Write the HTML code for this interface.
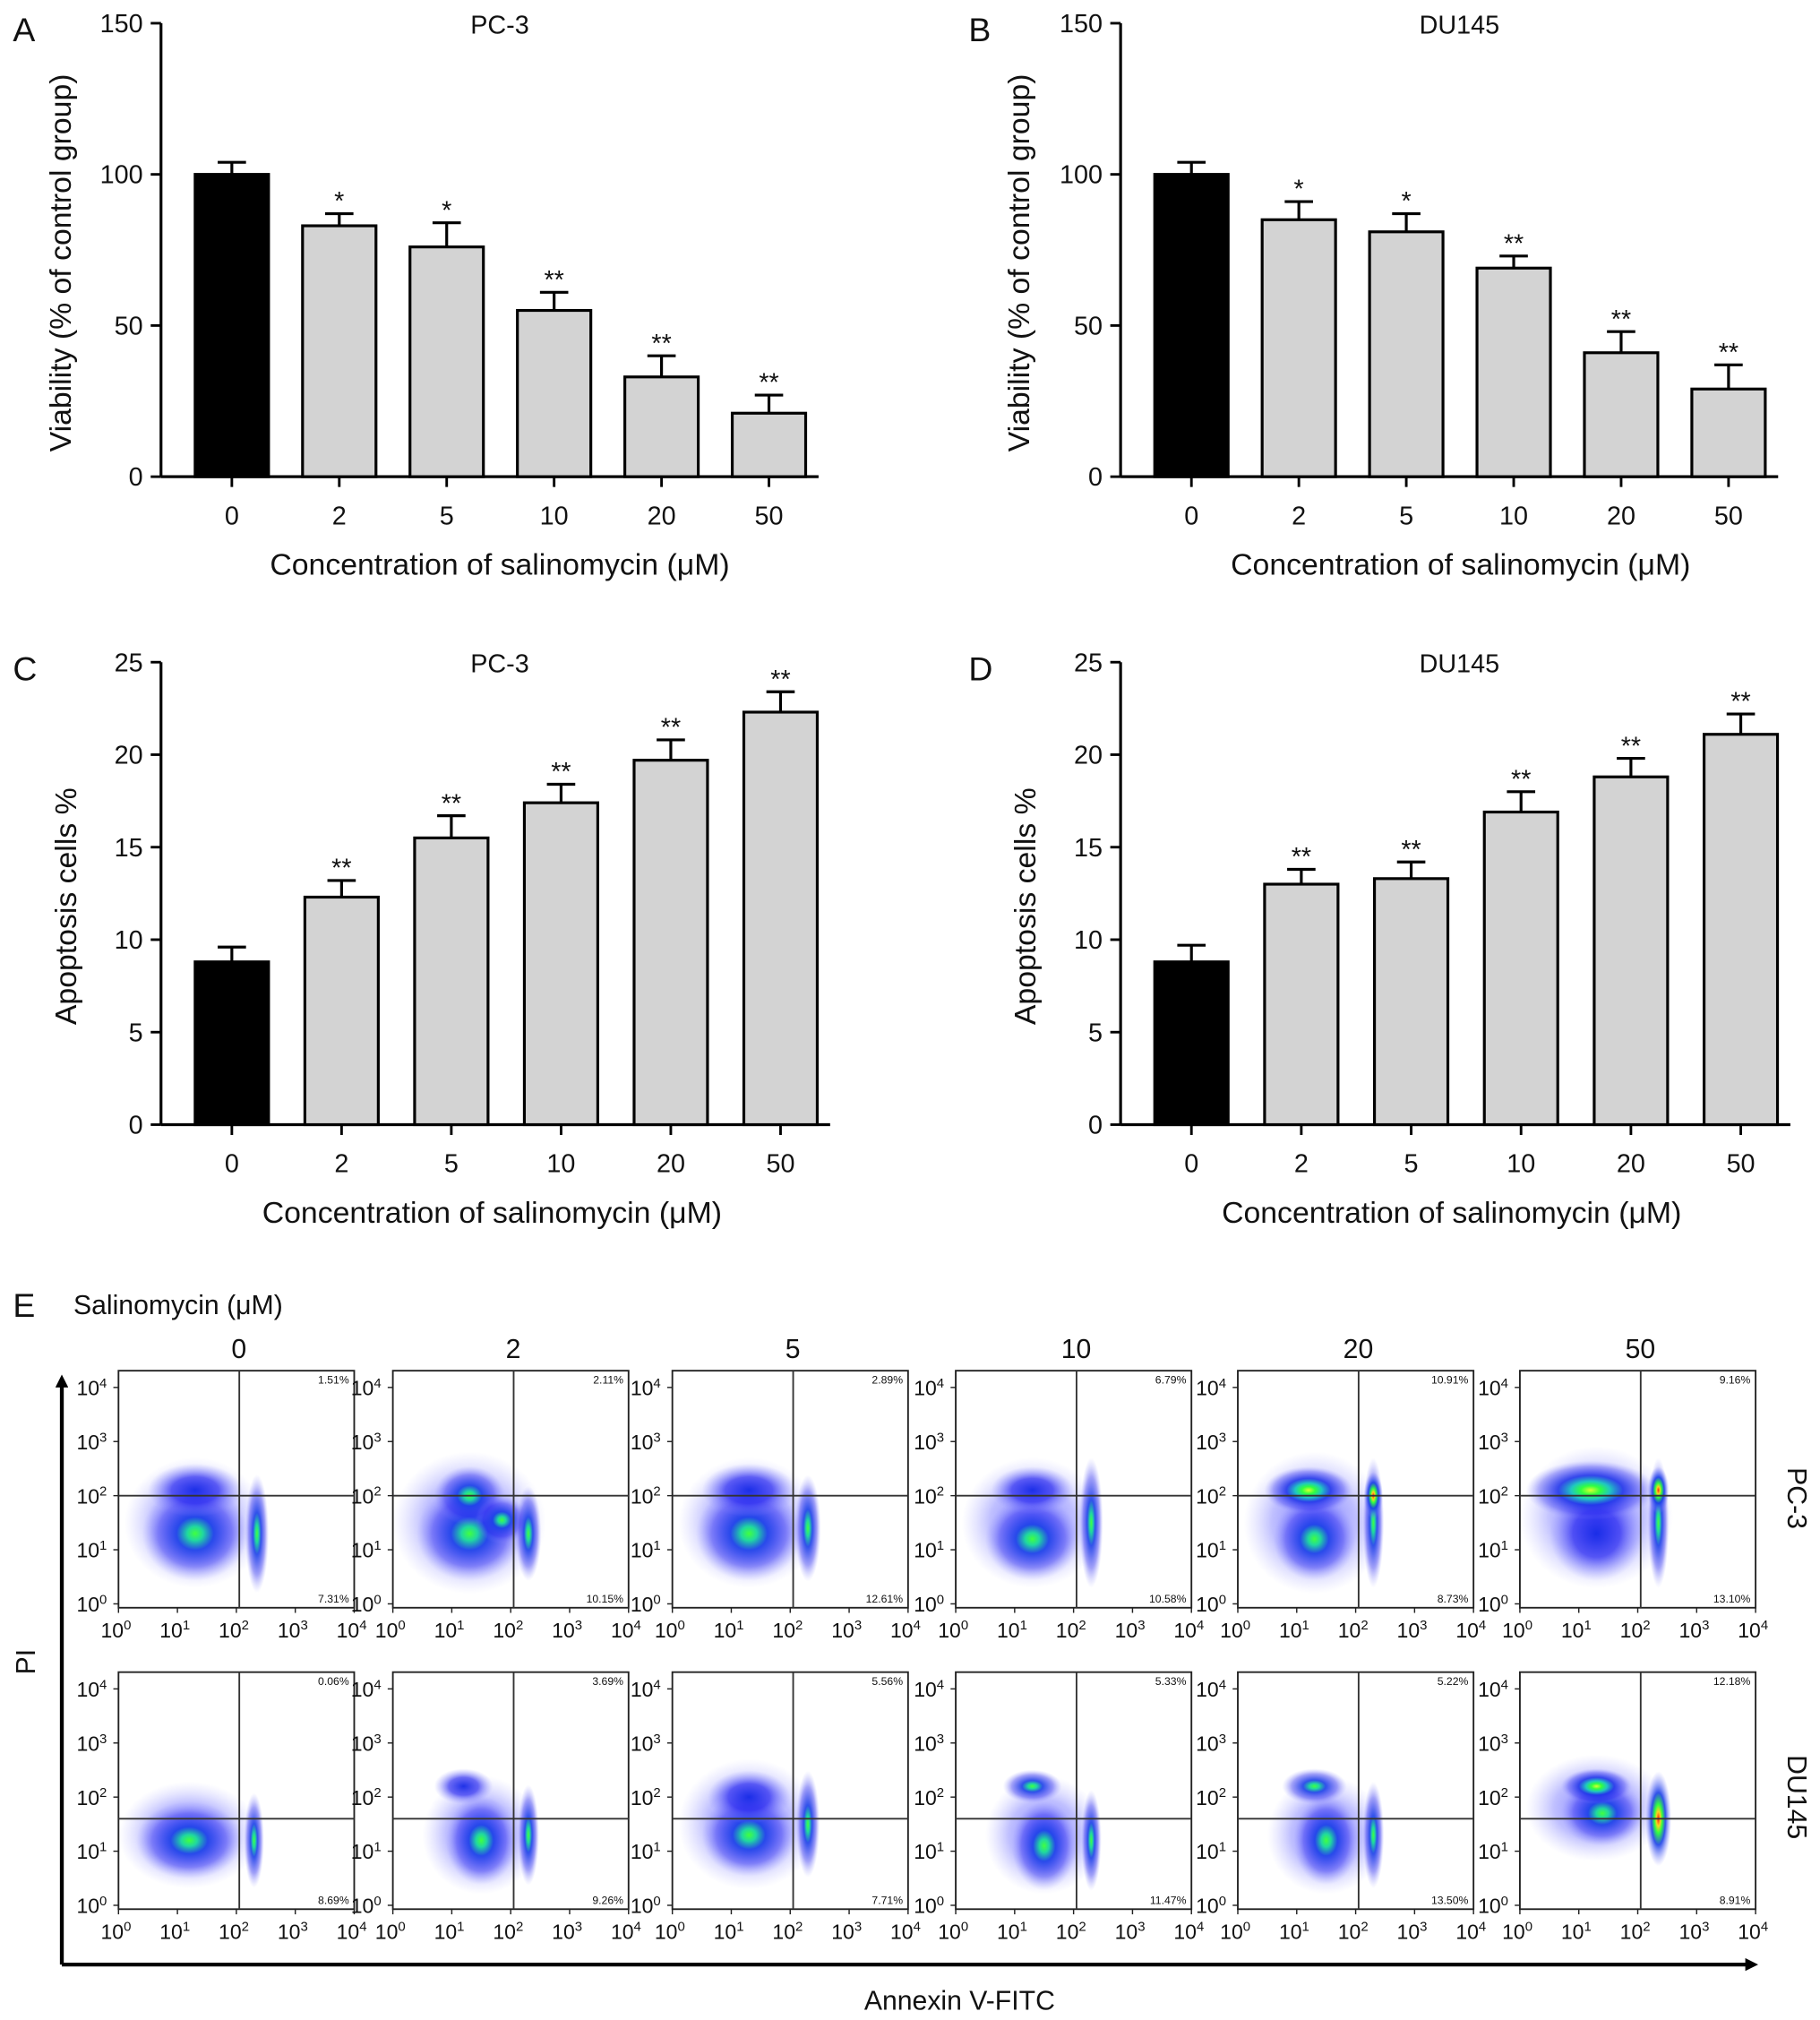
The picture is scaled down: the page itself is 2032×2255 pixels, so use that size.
<!DOCTYPE html>
<html><head><meta charset="utf-8"><style>
html,body{margin:0;padding:0;background:#fff}
svg{display:block}
text{font-family:"Liberation Sans",Arial,sans-serif;fill:#111}
</style></head><body>
<svg id="fig" xmlns="http://www.w3.org/2000/svg" width="2032" height="2255" viewBox="0 0 1413 1568">
<defs>
<radialGradient id="gB"><stop offset="0" stop-color="#1428e6" stop-opacity="0.95"/><stop offset="0.5" stop-color="#2a2af0" stop-opacity="0.7"/><stop offset="1" stop-color="#8a8aff" stop-opacity="0"/></radialGradient>
<radialGradient id="gG"><stop offset="0" stop-color="#40ff40"/><stop offset="0.15" stop-color="#20d8a0"/><stop offset="0.35" stop-color="#1a40e8" stop-opacity="0.9"/><stop offset="0.7" stop-color="#3030f0" stop-opacity="0.45"/><stop offset="1" stop-color="#8a8aff" stop-opacity="0"/></radialGradient>
<radialGradient id="gY"><stop offset="0" stop-color="#d8ff30"/><stop offset="0.15" stop-color="#30ff40"/><stop offset="0.3" stop-color="#20c8c0"/><stop offset="0.5" stop-color="#1a30e8" stop-opacity="0.85"/><stop offset="0.8" stop-color="#3030f0" stop-opacity="0.35"/><stop offset="1" stop-color="#8a8aff" stop-opacity="0"/></radialGradient>
<radialGradient id="gR"><stop offset="0" stop-color="#ff2010"/><stop offset="0.15" stop-color="#ffd020"/><stop offset="0.3" stop-color="#30ff40"/><stop offset="0.55" stop-color="#1a40e8" stop-opacity="0.9"/><stop offset="1" stop-color="#8a8aff" stop-opacity="0"/></radialGradient>
<radialGradient id="gH"><stop offset="0" stop-color="#4040ff" stop-opacity="0.75"/><stop offset="0.6" stop-color="#6060ff" stop-opacity="0.4"/><stop offset="1" stop-color="#a0a0ff" stop-opacity="0"/></radialGradient>
<marker id="arr" markerWidth="10" markerHeight="10" refX="5" refY="5" orient="auto" markerUnits="userSpaceOnUse"><path d="M0,0 L10,5 L0,10 z" fill="#000"/></marker>
</defs>
<g id="root"></g>
</svg>
<script>
// ---- bar chart data ----
const categories = ["0","2","5","10","20","50"];
const viabPC3 = [100, 83, 76, 55, 33, 21];
const viabPC3Err = [4, 4, 8, 6, 7, 6];
const viabDU = [100, 85, 81, 69, 41, 29];
const viabDUErr = [4, 6, 6, 4, 7, 8];
const apopPC3 = [8.8, 12.3, 15.5, 17.4, 19.7, 22.3];
const apopPC3Err = [0.8, 0.9, 1.2, 1.0, 1.1, 1.1];
const apopDU = [8.8, 13.0, 13.3, 16.9, 18.8, 21.1];
const apopDUErr = [0.9, 0.8, 0.9, 1.1, 1.0, 1.1];
const sigPC3V = ["", "*", "*", "**", "**", "**"];
const sigDUV = ["", "*", "*", "**", "**", "**"];
const sigPC3A = ["", "**", "**", "**", "**", "**"];
const sigDUA = ["", "**", "**", "**", "**", "**"];
const viabTicks = [0, 50, 100, 150];
const apopTicks = [0, 5, 10, 15, 20, 25];
// ---- flow percentages ----
const flowDoses = ["0","2","5","10","20","50"];
const pc3Upper = ["1.51%","2.11%","2.89%","6.79%","10.91%","9.16%"];
const pc3Lower = ["7.31%","10.15%","12.61%","10.58%","8.73%","13.10%"];
const duUpper = ["0.06%","3.69%","5.56%","5.33%","5.22%","12.18%"];
const duLower = ["8.69%","9.26%","7.71%","11.47%","13.50%","8.91%"];

const NS="http://www.w3.org/2000/svg";
const root=document.getElementById('root');
function mk(tag,attrs,parent,txt){const e=document.createElementNS(NS,tag);for(const k in attrs)e.setAttribute(k,attrs[k]);if(txt!==undefined)e.textContent=txt;(parent||root).appendChild(e);return e;}

function barChart(o){
  const g=mk('g',{});
  
  
  const x0=o.x0,top=o.top,bot=o.bot,max=o.max,step=o.step,first=o.first,bw=57;
  const y=v=>bot-(v/max)*(bot-top);
  const xc=i=>first+i*step;
  mk('line',{x1:x0,y1:top,x2:x0,y2:bot,stroke:'#000','stroke-width':2.2},g);
  mk('line',{x1:x0,y1:bot,x2:xc(5)+bw/2+10,y2:bot,stroke:'#000','stroke-width':2.2},g);
  o.ticks.forEach(t=>{
    mk('line',{x1:x0-8,y1:y(t),x2:x0,y2:y(t),stroke:'#000','stroke-width':2},g);
    const tl=mk('text',{x:x0-14,y:y(t)+7,'text-anchor':'end','font-size':20},g,String(t));
    
    
  });
  o.vals.forEach((v,i)=>{
    const cx=xc(i);
    const ey=y(v+o.err[i]);
    mk('line',{x1:cx,y1:y(v),x2:cx,y2:ey,stroke:'#000','stroke-width':2.2},g);
    mk('line',{x1:cx-11,y1:ey,x2:cx+11,y2:ey,stroke:'#000','stroke-width':2.2},g);
    const r=mk('rect',{x:cx-bw/2,y:y(v),width:bw,height:bot-y(v),fill:i==0?'#000':'#d3d3d3',stroke:'#000','stroke-width':2.2},g);
    
    
    mk('line',{x1:cx,y1:bot,x2:cx,y2:bot+8,stroke:'#000','stroke-width':2},g);
    const xl=mk('text',{x:cx,y:bot+37,'text-anchor':'middle','font-size':20},g,categories[i]);
    
    
    if(o.sig[i]){const s=mk('text',{x:cx,y:ey-3,'text-anchor':'middle','font-size':20},g,o.sig[i]);
      
      }
  });
  const tt=mk('text',{x:o.titleX,y:top+8,'text-anchor':'middle','font-size':20},g,o.title);
  
  
  const xt=mk('text',{x:o.xtX,y:bot+76,'text-anchor':'middle','font-size':23.5},g,'Concentration of salinomycin (\u03bcM)');
  
  
  const yt=mk('text',{x:0,y:0,'text-anchor':'middle','font-size':23.5,transform:`translate(${o.ytX},${(top+bot)/2+10}) rotate(-90)`},g,o.ytitle);
  
  
  const pl=mk('text',{x:o.letterX,y:top+14,'font-size':26},g,o.letter);
  
  
}
barChart({name:'panel-a-pc3-viability',x0:125,top:18,bot:370,max:150,first:180,step:83.4,vals:viabPC3,err:viabPC3Err,sig:sigPC3V,ticks:viabTicks,title:'PC-3',titleX:388,xtX:388,ytitle:'Viability (% of control group)',ytX:55,letter:'A',letterX:10});
barChart({name:'panel-b-du145-viability',x0:870,top:18,bot:370,max:150,first:925,step:83.4,vals:viabDU,err:viabDUErr,sig:sigDUV,ticks:viabTicks,title:'DU145',titleX:1133,xtX:1134,ytitle:'Viability (% of control group)',ytX:799,letter:'B',letterX:752});
barChart({name:'panel-c-pc3-apoptosis',x0:125,top:514,bot:873,max:25,first:180,step:85.2,vals:apopPC3,err:apopPC3Err,sig:sigPC3A,ticks:apopTicks,title:'PC-3',titleX:388,xtX:382,ytitle:'Apoptosis cells %',ytX:59,letter:'C',letterX:10});
barChart({name:'panel-d-du145-apoptosis',x0:870,top:514,bot:873,max:25,first:925,step:85.3,vals:apopDU,err:apopDUErr,sig:sigDUA,ticks:apopTicks,title:'DU145',titleX:1133,xtX:1127,ytitle:'Apoptosis cells %',ytX:804,letter:'D',letterX:752});

// ---- Panel E ----
const lefts=[92,305,522,742,961,1180];
const rows=[{top:1064,h:184,hline:2.0,upper:pc3Upper,lower:pc3Lower,name:'pc3'},{top:1298,h:184,hline:1.6,upper:duUpper,lower:duLower,name:'du145'}];
// blobs: [lx, ly, rx(decades), ry(decades), gradient]
const blobs=[
 [ [[1.3,1.5,1.2,1.1,'gH'],[1.3,1.3,0.9,0.8,'gG'],[1.3,2.1,0.8,0.45,'gB'],[2.35,1.3,0.2,1.0,'gG']],
   [[1.3,1.5,1.3,1.2,'gH'],[1.3,1.3,0.9,0.8,'gG'],[1.3,2.0,0.6,0.5,'gG'],[1.85,1.55,0.45,0.4,'gG'],[2.3,1.3,0.22,0.8,'gG']],
   [[1.3,1.5,1.2,1.1,'gH'],[1.3,1.3,0.9,0.8,'gG'],[1.3,2.1,0.8,0.45,'gB'],[2.3,1.4,0.22,0.9,'gG']],
   [[1.3,1.5,1.2,1.1,'gH'],[1.3,1.2,0.8,0.7,'gG'],[1.3,2.1,0.7,0.4,'gB'],[2.3,1.5,0.2,1.1,'gG']],
   [[1.3,1.5,1.2,1.2,'gH'],[1.3,1.2,0.7,0.7,'gG'],[1.2,2.1,0.75,0.4,'gY'],[2.3,1.5,0.18,1.1,'gG'],[2.3,2.0,0.16,0.4,'gR']],
   [[1.3,1.6,1.3,1.2,'gH'],[1.3,1.3,0.8,0.8,'gB'],[1.2,2.1,1.1,0.5,'gY'],[2.35,1.5,0.18,1.1,'gG'],[2.35,2.1,0.18,0.4,'gR']] ],
 [ [[1.2,1.3,1.2,0.9,'gH'],[1.2,1.2,0.9,0.65,'gG'],[2.3,1.2,0.17,0.8,'gG']],
   [[1.5,1.3,1.0,1.0,'gH'],[1.5,1.2,0.6,0.75,'gG'],[1.2,2.2,0.5,0.3,'gB'],[2.3,1.3,0.18,0.85,'gG']],
   [[1.3,1.5,1.2,1.1,'gH'],[1.3,1.3,0.8,0.7,'gG'],[1.3,2.0,0.7,0.45,'gB'],[2.3,1.5,0.2,0.9,'gG']],
   [[1.5,1.3,1.0,1.0,'gH'],[1.5,1.1,0.55,0.75,'gG'],[1.3,2.2,0.5,0.28,'gG'],[2.3,1.2,0.17,0.85,'gG']],
   [[1.5,1.3,1.0,1.0,'gH'],[1.5,1.2,0.55,0.75,'gG'],[1.3,2.2,0.55,0.3,'gG'],[2.3,1.3,0.18,0.9,'gG']],
   [[1.3,1.8,1.2,0.9,'gH'],[1.4,1.7,0.7,0.55,'gG'],[1.3,2.2,0.6,0.3,'gY'],[2.35,1.6,0.22,0.8,'gR']] ]
];
function sup(parent,x,y,exp,anchor,fs){
  const t=mk('text',{x:x,y:y,'text-anchor':anchor,'font-size':fs},parent);
  mk('tspan',{},t,'10');mk('tspan',{dy:-6,'font-size':fs*0.65},t,String(exp));
  return t;
}
rows.forEach((row,ri)=>{
  lefts.forEach((L,ci)=>{
    const W=183,H=row.h,T=row.top;
    const g=mk('g',{});
    
    
    const cid='c'+ri+ci;
    const cp=mk('clipPath',{id:cid},g);mk('rect',{x:L,y:T,width:W,height:H},cp);
    const bg=mk('g',{'clip-path':`url(#${cid})`},g);
    const px=lx=>L+lx/4*W, py=ly=>T+H-3-ly/4*(H-16);
    blobs[ri][ci].forEach(b=>{
      const e=mk('ellipse',{cx:px(b[0]),cy:py(b[1]),rx:b[2]/4*W,ry:b[3]/4*H,fill:`url(#${b[4]})`},bg);
      
      
    });
    mk('rect',{x:L,y:T,width:W,height:H,fill:'none',stroke:'#222','stroke-width':1.3},g);
    mk('line',{x1:px(2.05),y1:T,x2:px(2.05),y2:T+H,stroke:'#333','stroke-width':1.3},g);
    mk('line',{x1:L,y1:py(row.hline),x2:L+W,y2:py(row.hline),stroke:'#333','stroke-width':1.3},g);
    for(let d=0;d<=4;d++){
      mk('line',{x1:px(d),y1:T+H,x2:px(d),y2:T+H+4,stroke:'#222','stroke-width':1},g);
      mk('line',{x1:L-4,y1:py(d),x2:L,y2:py(d),stroke:'#222','stroke-width':1},g);
      sup(g,px(d)-2,T+H+23,d,'middle',16);
      sup(g,L-9,py(d)+6,d,'end',16);
    }
    const u=mk('text',{x:L+W-4,y:T+10,'text-anchor':'end','font-size':8.5,fill:'#444'},g,row.upper[ci]);
    
    
    const lo=mk('text',{x:L+W-4,y:T+H-4,'text-anchor':'end','font-size':8.5,fill:'#444'},g,row.lower[ci]);
    
    
    if(ri===0){const dl=mk('text',{x:L+W/2+2,y:1054,'text-anchor':'middle','font-size':21},g,flowDoses[ci]);
      
      }
  });
});
const ga=mk('g',{});


mk('line',{x1:48,y1:1525,x2:48,y2:1072,stroke:'#000','stroke-width':3,'marker-end':'url(#arr)'},ga);
mk('line',{x1:48,y1:1525,x2:1360,y2:1525,stroke:'#000','stroke-width':3,'marker-end':'url(#arr)'},ga);
const pe=mk('text',{x:10,y:1022,'font-size':26},ga,'E');


const st=mk('text',{x:57,y:1020,'font-size':21},ga,'Salinomycin (\u03bcM)');


const pi=mk('text',{x:0,y:0,'text-anchor':'middle','font-size':21,transform:'translate(27,1290) rotate(-90)'},ga,'PI');


const an=mk('text',{x:745,y:1560,'text-anchor':'middle','font-size':21},ga,'Annexin V-FITC');


const r1=mk('text',{x:0,y:0,'text-anchor':'middle','font-size':21,transform:'translate(1388,1163) rotate(90)'},ga,'PC-3');


const r2=mk('text',{x:0,y:0,'text-anchor':'middle','font-size':21,transform:'translate(1388,1395) rotate(90)'},ga,'DU145');


</script>
</body></html>
